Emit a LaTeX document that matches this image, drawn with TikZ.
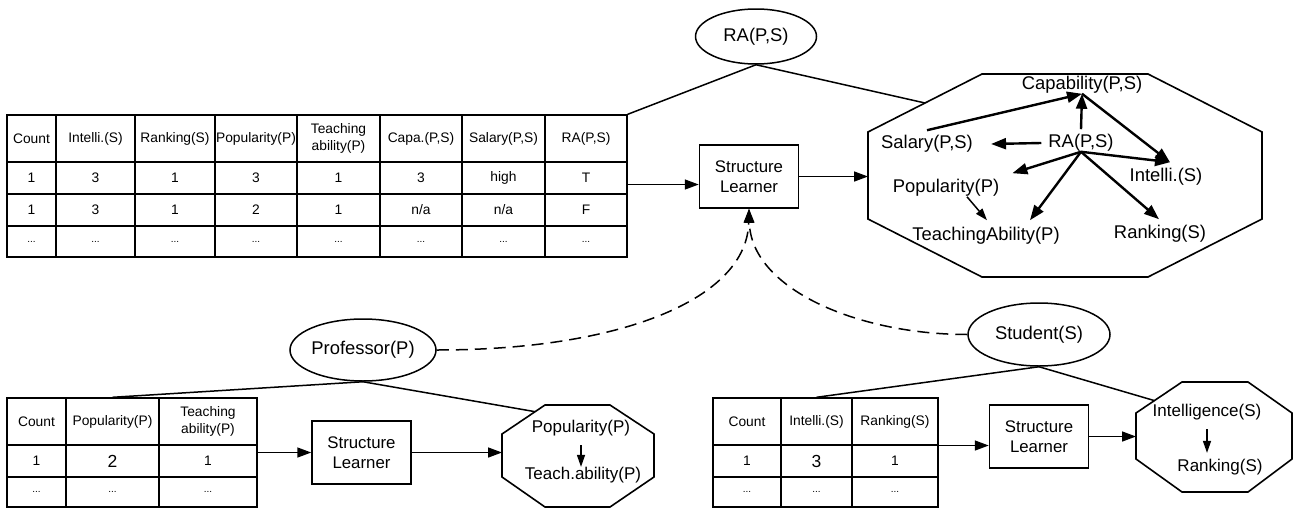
\documentclass[tikz,border=0pt]{standalone}
\usepackage{fontspec}
\setmainfont{Liberation Sans}
\usetikzlibrary{arrows.meta,shapes.geometric,calc}

\newcommand\fTab{\fontsize{13.8pt}{16.5pt}\selectfont}
\newcommand\fBox{\fontsize{16.8pt}{19.5pt}\selectfont}
\newcommand\fBig{\fontsize{18.4pt}{21pt}\selectfont}
\newcommand\fOct{\fontsize{17pt}{20pt}\selectfont}
\newcommand\fDot{\fontsize{10pt}{12pt}\selectfont}
\newcommand\fNum{\fontsize{17.5pt}{20pt}\selectfont}

\begin{document}
\begin{tikzpicture}[x=1pt,y=-1pt,
  conn/.style={line width=1.5pt},
  arr/.style={conn,-{Triangle[length=14pt,width=10pt]}},
  heavy/.style={line width=2.4pt,-{Triangle[length=15pt,width=11pt]}},
  thinarr/.style={line width=1.5pt,-{Triangle[length=12pt,width=8pt]}},
  dashlink/.style={line width=1.5pt,dash pattern=on 12pt off 7pt,-{Triangle[length=14pt,width=10pt]}},
  cellbox/.style={draw,line width=1.4pt,inner sep=0pt,align=center,font=\fTab},
  learner/.style={draw,line width=1.5pt,minimum width=99pt,minimum height=63pt,inner sep=0pt,align=center,font=\fBox},
  entity/.style={draw,ellipse,line width=1.5pt,inner sep=0pt,font=\fBig},
  var/.style={inner sep=0pt,font=\fBig},
  svar/.style={inner sep=0pt,font=\fOct},
  octline/.style={line width=1.6pt},
]
\fill[white] (0,0) rectangle (1298,514);
\useasboundingbox (0,0) rectangle (1298,514);

% ---- joint table RA(P,S) ----
\foreach \c/\xl/\xr/\hd/\ra/\rb in {
  1/7/56/Count/1/1,
  2/56/135/{Intelli.(S)}/3/3,
  3/135/215/{Ranking(S)}/1/1,
  4/215/297/{Popularity(P)}/3/2,
  5/297/380/{Teaching\\ability(P)}/1/1,
  6/380/462/{Capa.(P,S)}/3/{n/a},
  7/462/545/{Salary(P,S)}/high/{n/a},
  8/545/627/{RA(P,S)}/T/F}{
  \node[cellbox,minimum width={(\xr-\xl)*1pt},minimum height=47pt] (T-1-\c) at ({(\xl+\xr)/2},138.5) {\hd};
  \node[cellbox,minimum width={(\xr-\xl)*1pt},minimum height=32pt] (T-2-\c) at ({(\xl+\xr)/2},178) {\ra};
  \node[cellbox,minimum width={(\xr-\xl)*1pt},minimum height=32pt] (T-3-\c) at ({(\xl+\xr)/2},210) {\rb};
  \node[cellbox,minimum width={(\xr-\xl)*1pt},minimum height=31pt] (T-4-\c) at ({(\xl+\xr)/2},241.5) {\fDot ...};
}

% ---- professor table ----
\foreach \c/\xl/\xr/\hd/\ra in {
  1/7/66/Count/1,
  2/66/159/{Popularity(P)}/{\fNum 2},
  3/159/257/{Teaching\\ability(P)}/1}{
  \node[cellbox,minimum width={(\xr-\xl)*1pt},minimum height=47pt] (L-1-\c) at ({(\xl+\xr)/2},421.5) {\hd};
  \node[cellbox,minimum width={(\xr-\xl)*1pt},minimum height=32pt] (L-2-\c) at ({(\xl+\xr)/2},461) {\ra};
  \node[cellbox,minimum width={(\xr-\xl)*1pt},minimum height=30pt] (L-3-\c) at ({(\xl+\xr)/2},492) {\fDot ...};
}

% ---- student table ----
\foreach \c/\xl/\xr/\hd/\ra in {
  1/713/781/Count/1,
  2/781/852/{Intelli.(S)}/{\fNum 3},
  3/852/938/{Ranking(S)}/1}{
  \node[cellbox,minimum width={(\xr-\xl)*1pt},minimum height=47pt] (R-1-\c) at ({(\xl+\xr)/2},421.5) {\hd};
  \node[cellbox,minimum width={(\xr-\xl)*1pt},minimum height=32pt] (R-2-\c) at ({(\xl+\xr)/2},461) {\ra};
  \node[cellbox,minimum width={(\xr-\xl)*1pt},minimum height=30pt] (R-3-\c) at ({(\xl+\xr)/2},492) {\fDot ...};
}

% ---- entities and learners ----
\node[entity,minimum width=121pt,minimum height=55pt] (RA) at (756,36.5) {RA(P,S)};
\node[entity,minimum width=144pt,minimum height=62pt] (Prof) at (363,350) {Professor(P)};
\node[entity,minimum width=142pt,minimum height=63pt] (Stud) at (1039,334.5) {Student(S)};
\node[learner] (SL1) at (749,176.5) {Structure\\Learner};
\node[learner] (SL2) at (361.5,452.5) {Structure\\Learner};
\node[learner] (SL3) at (1039,436.5) {Structure\\Learner};

% ---- octagons ----
\coordinate (O1a) at (982,74);   \coordinate (O1b) at (1148,74);
\coordinate (O1c) at (1262,132); \coordinate (O1d) at (1262,219);
\coordinate (O1e) at (1148,277); \coordinate (O1f) at (982,277);
\coordinate (O1g) at (868,219);  \coordinate (O1h) at (868,132);
\draw[octline] (O1a) -- (O1b) -- (O1c) -- (O1d) -- (O1e) -- (O1f) -- (O1g) -- (O1h) -- cycle;

\coordinate (O2a) at (545,405);  \coordinate (O2b) at (610,405);
\coordinate (O2c) at (654,434);  \coordinate (O2d) at (654,477);
\coordinate (O2e) at (610,507);  \coordinate (O2f) at (545,507);
\coordinate (O2g) at (502,477);  \coordinate (O2h) at (502,434);
\draw[octline] (O2a) -- (O2b) -- (O2c) -- (O2d) -- (O2e) -- (O2f) -- (O2g) -- (O2h) -- cycle;

\coordinate (O3a) at (1182,382); \coordinate (O3b) at (1248,382);
\coordinate (O3c) at (1292,413); \coordinate (O3d) at (1292,459);
\coordinate (O3e) at (1248,492); \coordinate (O3f) at (1182,492);
\coordinate (O3g) at (1136,459); \coordinate (O3h) at (1136,413);
\draw[octline] (O3a) -- (O3b) -- (O3c) -- (O3d) -- (O3e) -- (O3f) -- (O3g) -- (O3h) -- cycle;

% ---- learned joint structure ----
\node[var] (Cap) at (1082,85) {Capability(P,S)};
\node[var] (Sal) at (927,144) {Salary(P,S)};
\node[var] (RAi) at (1081,143) {RA(P,S)};
\node[var] (Pop) at (946,188) {Popularity(P)};
\node[var] (Int) at (1166,177) {Intelli.(S)};
\node[var] (TA) at (986,236) {TeachingAbility(P)};
\node[var] (Rk) at (1160,234) {Ranking(S)};

\draw[heavy] ([yshift=5pt]Sal.north) -- (Cap.south);
\draw[heavy] ([yshift=5pt]RAi.north) -- (Cap.south);
\draw[heavy] (Cap.south) -- ([xshift=4pt,yshift=6pt]Int.north);
\draw[heavy] ([xshift=-7pt]RAi.west) -- ([xshift=18pt]Sal.east);
\draw[heavy] (RAi.south) -- ([xshift=4pt,yshift=6pt]Int.north);
\draw[heavy] (RAi.south) -- ([xshift=13pt,yshift=6pt]Pop.north east);
\draw[heavy] (RAi.south) -- ([xshift=44pt,yshift=7pt]TA.north);
\draw[heavy] (RAi.south) -- ([xshift=-1pt,yshift=6pt]Rk.north);
\draw[thinarr] ([xshift=21pt]Pop.south) -- ([xshift=1pt,yshift=7pt]TA.north);

% ---- learned professor structure ----
\node[svar] (Pop2) at (581,428) {Popularity(P)};
\node[svar] (Tch2) at (583,475) {Teach.ability(P)};
\draw[thinarr] ([yshift=-9pt]Pop2.south) -- (Pop2.south |- Tch2.north);

% ---- learned student structure ----
\node[svar] (Int3) at (1207,412) {Intelligence(S)};
\node[svar] (Rk3) at (1220,467) {Ranking(S)};
\coordinate (k3) at (Int3.south |- Rk3.north);
\draw[thinarr] ([yshift=-9pt]Int3.south) -- ([yshift=6pt]k3);

% ---- links of the joint part ----
\draw[conn] (RA.south) -- (T-1-8.north east);
\draw[conn] (RA.south) -- ($(O1h)!0.5!(O1a)$);
\coordinate (in1) at ([yshift=-8pt]SL1.west);
\draw[arr] (in1 -| T-2-8.east) -- (in1);
\draw[arr] (SL1.east) -- (SL1.east -| O1g);

% ---- links of the professor part ----
\draw[conn] (Prof.south) -- (L-1-2.north);
\draw[conn] (Prof.south) -- ($(O2h)!0.77!(O2a)$);
\coordinate (in2) at (SL2.west);
\draw[arr] (in2 -| L-2-3.east) -- (in2);
\draw[arr] (SL2.east) -- (SL2.east -| O2h);

% ---- links of the student part ----
\draw[conn] (Stud.south) -- (R-1-2.north);
\draw[conn] (Stud.south) -- ($(O3h)!0.4!(O3a)$);
\coordinate (in3) at ([yshift=-9pt]SL3.west);
\draw[arr] (in3 -| R-2-3.east) -- (in3);
\draw[arr] (SL3.east) -- (SL3.east -| O3h);

% ---- single-table structures feed the joint learner ----
\draw[dashlink] (Prof.east) .. controls +(185,0) and +(-2,90) .. (SL1.south);
\draw[dashlink] (Stud.west) .. controls +(-110,0) and +(2,80) .. (SL1.south);
\end{tikzpicture}
\end{document}
